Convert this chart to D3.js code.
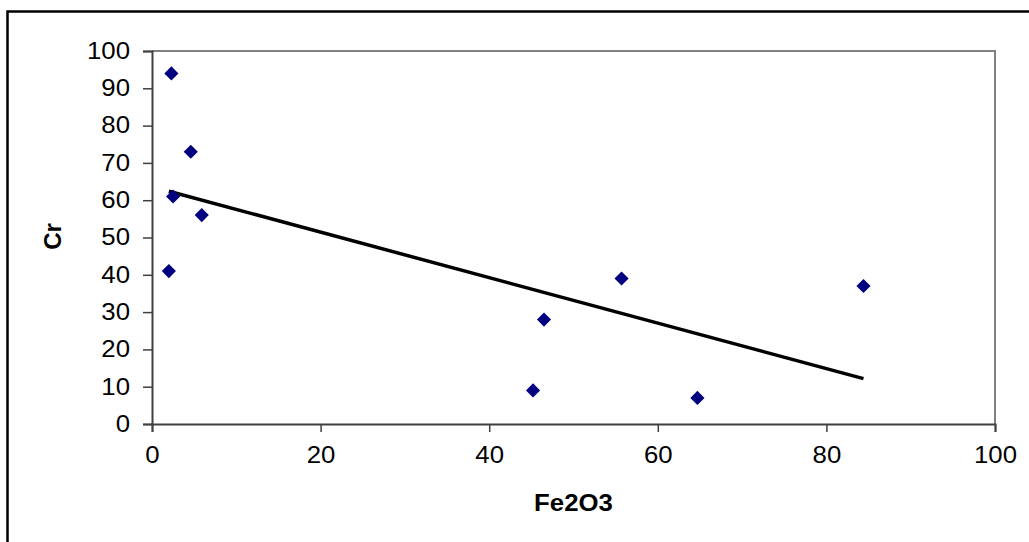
<!DOCTYPE html>
<html lang="en">
<head>
<meta charset="UTF-8">
<title>Cr vs Fe2O3</title>
<script src="https://d3js.org/d3.v7.min.js"></script>
<style>
  body { margin: 0; background: #fff; }
  text { font-family: "Liberation Sans", Arial, sans-serif; fill: #000; }
</style>
</head>
<body>
<div id="chart"></div>
<script>
// data
var fe2o3 = [2.3, 4.6, 2.5, 5.9, 2.0, 46.5, 45.2, 55.7, 64.7, 84.4];
var cr    = [94, 73, 61, 56, 41, 28, 9, 39, 7, 37];
var xTicks = [0, 20, 40, 60, 80, 100];
var yTicks = [0, 10, 20, 30, 40, 50, 60, 70, 80, 90, 100];

var W = 1029, H = 542;
var margin = { top: 51, right: 34, bottom: 118, left: 152 };
var width = W - margin.left - margin.right,
    height = H - margin.top - margin.bottom;

var svg = d3.select("#chart").append("svg")
    .attr("width", W).attr("height", H);

// outer chart border (runs off the right and bottom)
svg.append("rect")
    .attr("x", 7.5).attr("y", 11.5)
    .attr("width", W + 10).attr("height", H + 10)
    .attr("fill", "none").attr("stroke", "#000").attr("stroke-width", 2.5);

var g = svg.append("g")
    .attr("transform", "translate(" + margin.left + "," + margin.top + ")");

var x = d3.scaleLinear().domain([0, 100]).range([0, width]);
var y = d3.scaleLinear().domain([0, 100]).range([height, 0]);

// plot area frame (top and right in gray)
g.append("path")
    .attr("d", "M0,0H" + width + "V" + height)
    .attr("fill", "none").attr("stroke", "#808080").attr("stroke-width", 2);

// axes
var xAxis = g.append("g")
    .attr("transform", "translate(0," + height + ")")
    .call(d3.axisBottom(x).tickValues(xTicks).tickSize(8).tickPadding(15).tickFormat(d3.format("d")));
var yAxis = g.append("g")
    .call(d3.axisLeft(y).tickValues(yTicks).tickSize(9).tickPadding(13).tickFormat(d3.format("d")));

[xAxis, yAxis].forEach(function (a) {
    a.attr("font-size", null);
    a.select(".domain").attr("stroke", "#404040").attr("stroke-width", 2);
    a.selectAll(".tick line").attr("stroke", "#404040").attr("stroke-width", 1.5);
    a.selectAll("text").attr("font-size", 23).attr("fill", "#000");
});

// trendline: least squares fit over the data range
var mx = d3.mean(fe2o3), my = d3.mean(cr);
var sxy = d3.sum(fe2o3, function (v, i) { return (v - mx) * (cr[i] - my); });
var sxx = d3.sum(fe2o3, function (v) { return (v - mx) * (v - mx); });
var slope = sxy / sxx, icpt = my - slope * mx;
var xr = d3.extent(fe2o3);
g.append("line")
    .attr("x1", x(xr[0])).attr("y1", y(icpt + slope * xr[0]))
    .attr("x2", x(xr[1])).attr("y2", y(icpt + slope * xr[1]))
    .attr("stroke", "#000").attr("stroke-width", 3.5);

// diamond markers
var diamond = d3.symbol().type(d3.symbolSquare).size(100);
g.selectAll(".pt")
    .data(fe2o3)
    .enter().append("path")
    .attr("class", "pt")
    .attr("d", diamond)
    .attr("transform", function (d, i) {
        return "translate(" + x(d) + "," + y(cr[i]) + ") rotate(45)";
    })
    .attr("fill", "#000080");

// axis titles
g.append("text")
    .attr("x", width / 2).attr("y", height + 87)
    .attr("text-anchor", "middle")
    .attr("font-size", 23).attr("font-weight", "bold")
    .text("Fe2O3");
g.append("text")
    .attr("transform", "translate(" + (-91) + "," + (height / 2 - 1) + ") rotate(-90)")
    .attr("text-anchor", "middle")
    .attr("font-size", 24).attr("font-weight", "bold")
    .text("Cr");

// the original is a bit wider horizontally; stretch the labels to match
svg.selectAll(".tick text, g > text").each(function () {
    if (this.textContent === "Cr") return;
    var w = this.getComputedTextLength();
    d3.select(this).attr("textLength", w * 1.12).attr("lengthAdjust", "spacingAndGlyphs");
});
</script>
</body>
</html>
